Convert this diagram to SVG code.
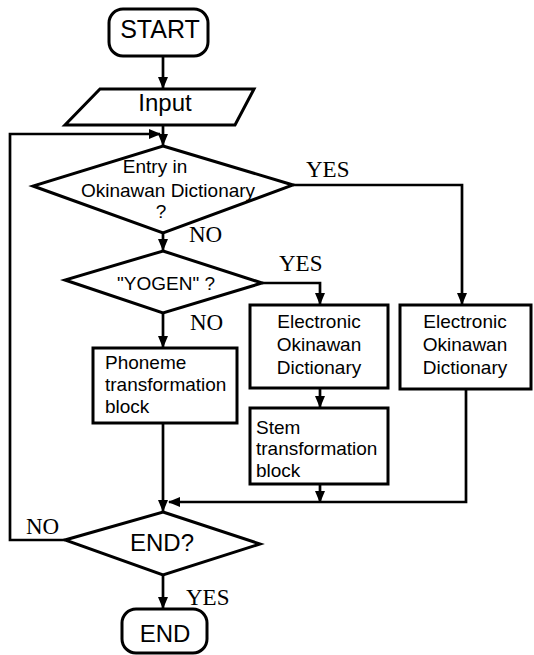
<svg xmlns="http://www.w3.org/2000/svg" width="534" height="655" viewBox="0 0 534 655">
<style>
.s{fill:#fff;stroke:#000;stroke-width:3}
.c{fill:none;stroke:#000;stroke-width:2.7}
.t{font-family:"Liberation Sans",Arial,sans-serif;fill:#000}
.l{font-family:"Liberation Serif","Times New Roman",serif;font-size:23px;fill:#000}
</style>
<defs>
<marker id="a" markerWidth="12" markerHeight="10" refX="11" refY="5" orient="auto" markerUnits="userSpaceOnUse">
<path d="M0,0 L12,5 L0,10 z" fill="#000"/>
</marker>
</defs>
<g id="connectors">
<line class="c" x1="163" y1="56" x2="163" y2="88" marker-end="url(#a)"/>
<line class="c" x1="163" y1="125" x2="163" y2="145" marker-end="url(#a)"/>
<polyline class="c" points="65,540 10,540 10,134 160,134" marker-end="url(#a)"/>
<polyline class="c" points="293,185 462,185 462,304" marker-end="url(#a)"/>
<line class="c" x1="163" y1="233" x2="163" y2="250" marker-end="url(#a)"/>
<polyline class="c" points="262,283 320,283 320,304" marker-end="url(#a)"/>
<line class="c" x1="163" y1="313" x2="163" y2="347" marker-end="url(#a)"/>
<line class="c" x1="320" y1="388" x2="320" y2="407" marker-end="url(#a)"/>
<line class="c" x1="163" y1="423" x2="163" y2="511" marker-end="url(#a)"/>
<line class="c" x1="320" y1="484" x2="320" y2="502" marker-end="url(#a)"/>
<polyline class="c" points="466,389 466,502 169,502" marker-end="url(#a)"/>
<line class="c" x1="163" y1="575" x2="163" y2="608" marker-end="url(#a)"/>
</g>
<g id="labels">
<text class="l" x="306" y="177">YES</text>
<text class="l" x="189" y="242">NO</text>
<text class="l" x="279" y="271">YES</text>
<text class="l" x="190" y="330">NO</text>
<text class="l" x="26" y="534">NO</text>
<text class="l" x="186" y="605">YES</text>
</g>
<g id="start">
<rect class="s" x="109" y="9" width="99" height="47" rx="14"/>
<text class="t" x="160" y="38" font-size="25" text-anchor="middle">START</text>
</g>
<g id="input">
<polygon class="s" points="100,89 254,89 235,125 65,125"/>
<text class="t" x="165" y="111" font-size="24" text-anchor="middle">Input</text>
</g>
<g id="entry">
<polygon class="s" points="163,146 293,185 163,233 33,186"/>
<text class="t" font-size="19" text-anchor="middle"><tspan x="155" y="173">Entry in</tspan><tspan x="168" y="197">Okinawan Dictionary</tspan><tspan x="161" y="218">?</tspan></text>
</g>
<g id="yogen">
<polygon class="s" points="163,251 262,283 163,313 65,280"/>
<text class="t" x="166" y="290" font-size="19" text-anchor="middle">"YOGEN" ?</text>
</g>
<g id="eod1">
<rect class="s" x="250" y="305" width="138" height="83"/>
<text class="t" font-size="19" text-anchor="middle"><tspan x="319" y="328">Electronic</tspan><tspan x="319" y="351">Okinawan</tspan><tspan x="319" y="374">Dictionary</tspan></text>
</g>
<g id="eod2">
<rect class="s" x="400" y="305" width="131" height="84"/>
<text class="t" font-size="19" text-anchor="middle"><tspan x="465" y="328">Electronic</tspan><tspan x="465" y="351">Okinawan</tspan><tspan x="465" y="374">Dictionary</tspan></text>
</g>
<g id="phoneme">
<rect class="s" x="93" y="348" width="144" height="75"/>
<text class="t" font-size="19"><tspan x="105" y="369">Phoneme</tspan><tspan x="105" y="391">transformation</tspan><tspan x="105" y="413">block</tspan></text>
</g>
<g id="stem">
<rect class="s" x="250" y="408" width="138" height="76"/>
<text class="t" font-size="19"><tspan x="256" y="434">Stem</tspan><tspan x="256" y="455">transformation</tspan><tspan x="256" y="477">block</tspan></text>
</g>
<g id="endq">
<polygon class="s" points="163,512 260,544 163,575 65,540"/>
<text class="t" x="162" y="551" font-size="24" text-anchor="middle">END?</text>
</g>
<g id="end">
<rect class="s" x="122" y="609" width="85" height="44" rx="14"/>
<text class="t" x="165" y="642" font-size="24" text-anchor="middle">END</text>
</g>
</svg>
